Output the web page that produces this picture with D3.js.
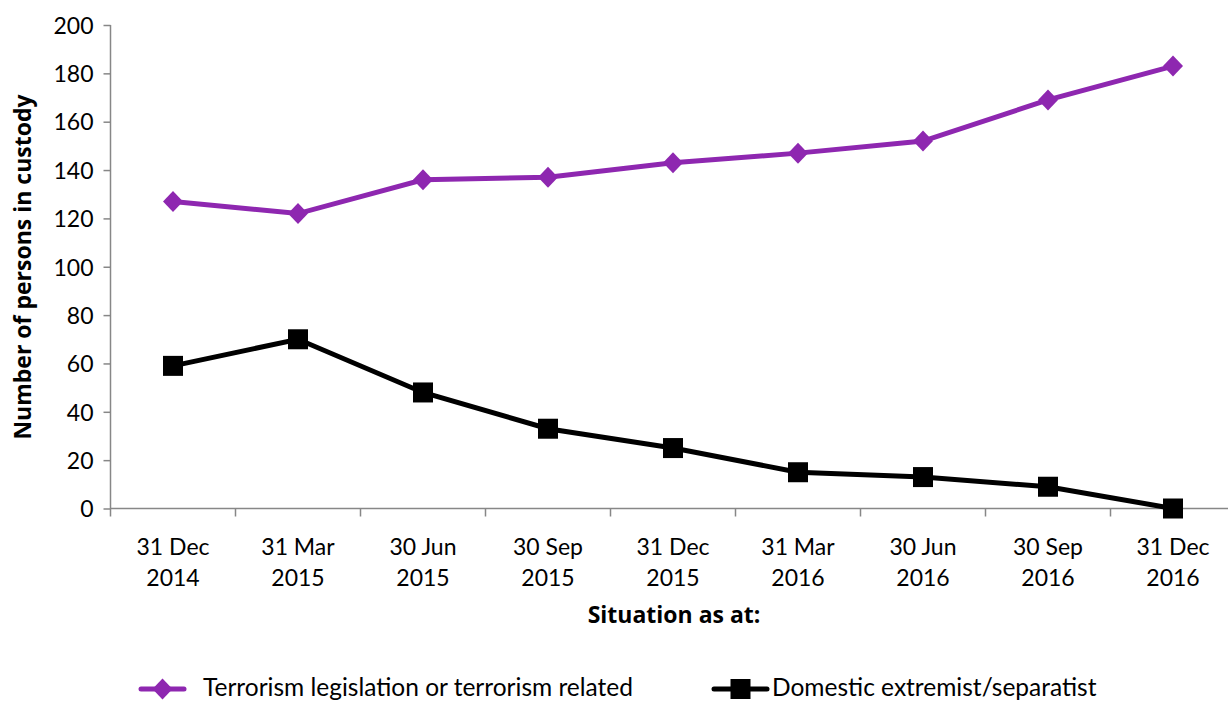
<!DOCTYPE html>
<html><head><meta charset="utf-8">
<script src="https://cdn.jsdelivr.net/npm/d3@7"></script>
<style>body{margin:0;background:#fff}svg{display:block}text{font-family:Lato,"Open Sans",sans-serif;fill:#000}</style>
</head><body><svg id="c" width="1228" height="702"></svg>
<script>
const categories = [["31 Dec","2014"],["31 Mar","2015"],["30 Jun","2015"],["30 Sep","2015"],["31 Dec","2015"],["31 Mar","2016"],["30 Jun","2016"],["30 Sep","2016"],["31 Dec","2016"]];
const terrorism = [127,122,136,137,143,147,152,169,183];
const domestic = [59,70,48,33,25,15,13,9,0];
const yTicks = [0,20,40,60,80,100,120,140,160,180,200];
const seriesNames = ["Terrorism legislation or terrorism related","Domestic extremist/separatist"];

(function(){
const purple = "#8E27B0";
const svg = d3.select("#c");
const pLeft = 110.5, pRight = 1235.5, pTop = 25, pBottom = 508.5;
const x = d3.scaleBand().domain(d3.range(categories.length)).range([pLeft,pRight]);
const y = d3.scaleLinear().domain([0,200]).range([pBottom,pTop]);
const cx = i => x(i) + x.bandwidth()/2;
const axisColor = "#878787";

// y axis
const ya = svg.append("g").attr("transform",`translate(${pLeft},0)`)
  .call(d3.axisLeft(y).tickValues(yTicks).tickSize(7).tickPadding(10));
ya.selectAll("path,line").attr("stroke",axisColor).attr("stroke-width",1.5);
ya.select(".domain").attr("d",`M0,${pTop}V${pBottom+8}`);
ya.selectAll("text").style("font-size","23px").style("font-family","Lato").attr("dy","0.36em");

// x axis
const xa = svg.append("g").attr("transform",`translate(0,${pBottom})`);
xa.append("line").attr("x1",pLeft).attr("x2",1228).attr("stroke",axisColor).attr("stroke-width",1.5);
const bounds = d3.range(categories.length).map(i=>x(i)).concat([pRight]);
xa.selectAll("line.t").data(bounds.slice(1)).join("line").attr("class","t")
  .attr("x1",d=>d).attr("x2",d=>d).attr("y1",0).attr("y2",8).attr("stroke",axisColor).attr("stroke-width",1.5);
const lbl = xa.selectAll("text.l").data(categories).join("text").attr("class","l")
  .attr("text-anchor","middle").style("font-size","23px");
lbl.append("tspan").attr("x",(d,i)=>cx(i)).attr("y",46).text(d=>d[0]);
lbl.append("tspan").attr("x",(d,i)=>cx(i)).attr("y",77).text(d=>d[1]);

// titles
svg.append("text").attr("transform","translate(31,267) rotate(-90)").attr("text-anchor","middle")
  .style("font-family","'Open Sans'").style("font-size","23px").style("font-weight","bold").text("Number of persons in custody");
svg.append("text").attr("x",674).attr("y",623).attr("text-anchor","middle")
  .style("font-family","'Open Sans'").style("font-size","23px").style("font-weight","bold").text("Situation as at:");

const line = d3.line().x((d,i)=>cx(i)).y(d=>y(d));
svg.append("path").datum(terrorism).attr("d",line).attr("fill","none").attr("stroke",purple).attr("stroke-width",5);
svg.append("path").datum(domestic).attr("d",line).attr("fill","none").attr("stroke","#000").attr("stroke-width",5);

function drawDiamond(g,xx,yy){ g.append("path").attr("d",`M${xx},${yy-10.5}L${xx+10},${yy}L${xx},${yy+10.5}L${xx-10},${yy}Z`).attr("fill",purple); }
function drawSquare(g,xx,yy){ g.append("rect").attr("x",xx-10).attr("y",yy-10).attr("width",20).attr("height",20).attr("fill","#000"); }
const mk = svg.append("g");
terrorism.forEach((v,i)=>drawDiamond(mk,cx(i),y(v)));
domestic.forEach((v,i)=>drawSquare(mk,cx(i),y(v)));

// legend
const lg = svg.append("g");
const ly = 689;
lg.append("line").attr("x1",141).attr("x2",184).attr("y1",ly).attr("y2",ly).attr("stroke",purple).attr("stroke-width",5).attr("stroke-linecap","round");
drawDiamond(lg,162.5,ly);
lg.append("text").attr("x",203).attr("y",ly+7).style("font-size","24.5px").text(seriesNames[0]);
lg.append("line").attr("x1",714).attr("x2",767).attr("y1",ly).attr("y2",ly).attr("stroke","#000").attr("stroke-width",5).attr("stroke-linecap","round");
drawSquare(lg,740.5,ly);
lg.append("text").attr("x",772).attr("y",ly+7).style("font-size","24.5px").text(seriesNames[1]);
})();
</script></body></html>
